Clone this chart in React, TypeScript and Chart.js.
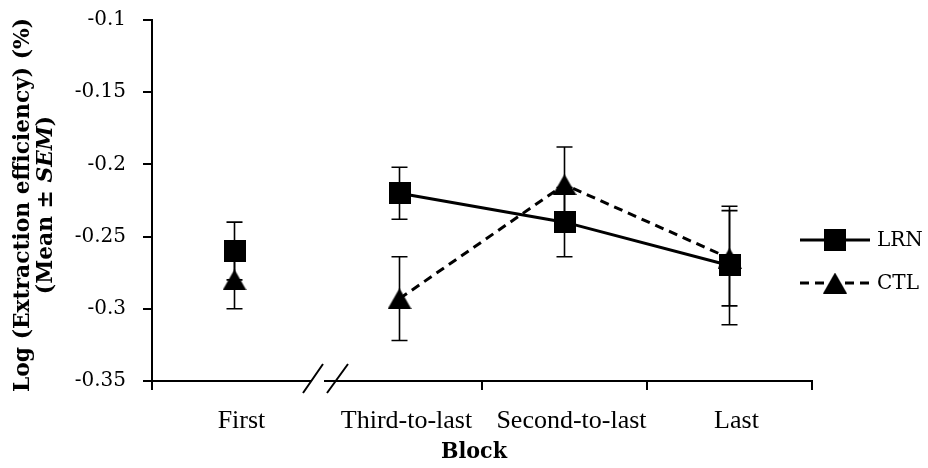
import React, { useEffect, useRef } from "react";
import { Chart, registerables } from "chart.js";

Chart.register(...registerables);

const categories = ["First", "Third-to-last", "Second-to-last", "Last"];
const lrnMean = [-0.26, -0.22, -0.24, -0.27];
const lrnSem = [0.02, 0.018, 0.024, 0.041];
const ctlMean = [-0.28, -0.293, -0.214, -0.265];
const ctlSem = [0.02, 0.029, 0.026, 0.033];
const yTickLabels = ["-0.35", "-0.3", "-0.25", "-0.2", "-0.15", "-0.1"];
const seriesNames = ["LRN", "CTL"];

function makeSquare(): HTMLCanvasElement {
  const c = document.createElement("canvas");
  c.width = 22;
  c.height = 22;
  const g = c.getContext("2d")!;
  g.fillStyle = "#000";
  g.fillRect(0, 0, 22, 22);
  return c;
}

function makeTriangle(): HTMLCanvasElement {
  const c = document.createElement("canvas");
  c.width = 24;
  c.height = 21;
  const g = c.getContext("2d")!;
  g.fillStyle = "#000";
  g.beginPath();
  g.moveTo(12, 0);
  g.lineTo(24, 21);
  g.lineTo(0, 21);
  g.closePath();
  g.fill();
  return c;
}

export default function App() {
  const ref = useRef<HTMLCanvasElement>(null);

  useEffect(() => {
    document.body.style.margin = "0";
    const canvas = ref.current!;
    const sq = makeSquare();
    const tri = makeTriangle();

    const errorBars = {
      id: "errorBars",
      beforeDatasetsDraw(chart: any) {
        const { ctx, scales } = chart;
        const xs = scales.x;
        const ys = scales.y;
        ctx.save();
        ctx.strokeStyle = "#000";
        ctx.lineWidth = 1.6;
        const sets = [
          [lrnMean, lrnSem],
          [ctlMean, ctlSem],
        ];
        sets.forEach(([m, s]) => {
          m.forEach((v: number, i: number) => {
            const x = xs.getPixelForValue(i);
            const yt = ys.getPixelForValue(v + s[i]);
            const yb = ys.getPixelForValue(v - s[i]);
            ctx.beginPath();
            ctx.moveTo(x, yt);
            ctx.lineTo(x, yb);
            ctx.moveTo(x - 8, yt);
            ctx.lineTo(x + 8, yt);
            ctx.moveTo(x - 8, yb);
            ctx.lineTo(x + 8, yb);
            ctx.stroke();
          });
        });
        ctx.restore();
      },
    };

    const extras = {
      id: "extras",
      afterDraw(chart: any) {
        const { ctx, scales, chartArea } = chart;
        const xs = scales.x;
        ctx.save();
        // axis break
        const bx = (xs.getPixelForValue(0) + xs.getPixelForValue(1)) / 2;
        const by = chartArea.bottom;
        ctx.fillStyle = "#fff";
        ctx.fillRect(bx - 6, by - 4, 13, 14);
        ctx.strokeStyle = "#000";
        ctx.lineWidth = 2;
        ctx.beginPath();
        ctx.moveTo(bx - 14, by + 12);
        ctx.lineTo(bx + 6, by - 17);
        ctx.moveTo(bx + 10, by + 12);
        ctx.lineTo(bx + 31, by - 17);
        ctx.stroke();

        // legend
        const legendItems = [
          { name: seriesNames[0], y: 240, dash: [] as number[], img: sq },
          { name: seriesNames[1], y: 283, dash: [9, 6], img: tri },
        ];
        legendItems.forEach((it) => {
          ctx.strokeStyle = "#000";
          ctx.lineWidth = 3;
          ctx.setLineDash(it.dash);
          ctx.beginPath();
          ctx.moveTo(800, it.y);
          ctx.lineTo(870, it.y);
          ctx.stroke();
          ctx.setLineDash([]);
          ctx.drawImage(it.img, 835 - it.img.width / 2, it.y - it.img.height / 2);
          ctx.fillStyle = "#000";
          ctx.font = '20px "DejaVu Serif"';
          ctx.textAlign = "left";
          ctx.textBaseline = "middle";
          ctx.fillText(it.name, 877, it.y + 1);
        });

        // y title
        const boldFont = 'bold 22px "DejaVu Serif"';
        const italicFont = 'italic bold 22px "DejaVu Serif"';
        ctx.font = boldFont;
        const l1 = "Log (Extraction efficiency) (%)";
        const w1 = ctx.measureText(l1).width;
        const k = 374 / w1;
        const cy = 205;
        ctx.fillStyle = "#000";
        ctx.textBaseline = "middle";
        ctx.save();
        ctx.translate(23, cy);
        ctx.rotate(-Math.PI / 2);
        ctx.scale(k, 1);
        ctx.textAlign = "center";
        ctx.fillText(l1, 0, 0);
        ctx.restore();

        const parts = [
          { t: "(Mean ± ", f: boldFont },
          { t: "SEM", f: italicFont },
          { t: ")", f: boldFont },
        ];
        let total = 0;
        parts.forEach((p) => {
          ctx.font = p.f;
          total += ctx.measureText(p.t).width;
        });
        ctx.save();
        ctx.translate(46, cy);
        ctx.rotate(-Math.PI / 2);
        ctx.scale(k, 1);
        ctx.textAlign = "left";
        let px = -total / 2;
        parts.forEach((p) => {
          ctx.font = p.f;
          ctx.fillText(p.t, px, 0);
          px += ctx.measureText(p.t).width;
        });
        ctx.restore();

        // x title
        ctx.save();
        ctx.font = 'bold 22px "DejaVu Serif"';
        const wb = ctx.measureText("Block").width;
        ctx.translate(474, 452);
        ctx.scale(66 / wb, 1);
        ctx.textAlign = "center";
        ctx.textBaseline = "middle";
        ctx.fillText("Block", 0, 0);
        ctx.restore();

        ctx.restore();
      },
    };

    const chart = new Chart(canvas, {
      type: "line",
      data: {
        labels: categories,
        datasets: [
          {
            label: seriesNames[0],
            data: lrnMean,
            borderColor: "#000",
            backgroundColor: "#000",
            borderWidth: 3,
            pointStyle: sq as any,
            pointRadius: 11,
            tension: 0,
            fill: false,
            segment: {
              borderColor: (c: any) => (c.p0DataIndex === 0 ? "rgba(0,0,0,0)" : "#000"),
            },
          },
          {
            label: seriesNames[1],
            data: ctlMean,
            borderColor: "#000",
            backgroundColor: "#000",
            borderWidth: 3,
            borderDash: [9, 6],
            pointStyle: tri as any,
            pointRadius: 11,
            tension: 0,
            fill: false,
            segment: {
              borderColor: (c: any) => (c.p0DataIndex === 0 ? "rgba(0,0,0,0)" : "#000"),
            },
          },
        ],
      },
      options: {
        responsive: false,
        animation: false,
        devicePixelRatio: 1,
        layout: { padding: { top: 20, right: 116, left: 0, bottom: 0 } },
        plugins: {
          legend: { display: false },
          tooltip: { enabled: false },
          title: { display: false },
        },
        scales: {
          x: {
            type: "category",
            offset: true,
            grid: {
              offset: true,
              drawOnChartArea: false,
              tickLength: 9,
              color: "#000",
              lineWidth: 2,
            },
            border: { color: "#000", width: 2 },
            ticks: {
              font: { family: "Liberation Serif", size: 26 },
              color: "#000",
              padding: 16,
              labelOffset: 7,
              maxRotation: 0,
              autoSkip: false,
            },
            afterFit: (s: any) => {
              s.height = 87;
              s.paddingLeft = 0;
              s.paddingRight = 0;
            },
          },
          y: {
            min: -0.35,
            max: -0.1,
            ticks: {
              stepSize: 0.05,
              font: { family: "DejaVu Serif", size: 20 },
              color: "#000",
              padding: 17,
              callback: (_v: any, i: number) => yTickLabels[i],
            },
            grid: {
              drawOnChartArea: false,
              tickLength: 9,
              color: "#000",
              lineWidth: 2,
            },
            border: { color: "#000", width: 2 },
            afterFit: (s: any) => {
              s.width = 152;
              s.paddingTop = 0;
              s.paddingBottom = 0;
            },
          },
        },
      },
      plugins: [errorBars, extras],
    });

    return () => chart.destroy();
  }, []);

  return (
    <div style={{ width: 928, height: 468, background: "#fff" }}>
      <canvas ref={ref} width={928} height={468} />
    </div>
  );
}
